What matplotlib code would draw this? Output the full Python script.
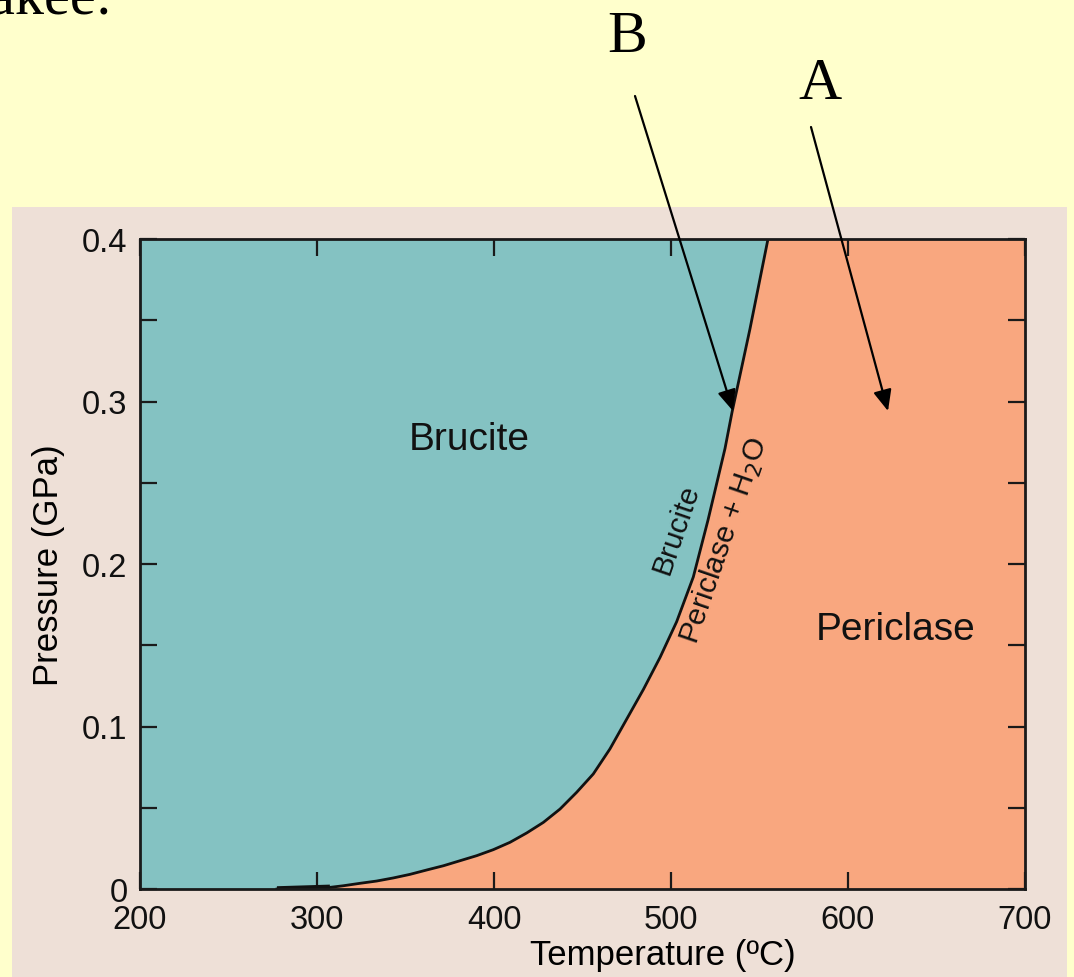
import matplotlib.pyplot as plt
import matplotlib.patches as patches
from matplotlib.ticker import MultipleLocator

# phase boundary brucite = periclase + H2O
temp = [277.4, 307.3, 314.9, 324.3, 333.7, 343.1, 352.5, 362.0, 371.4, 380.8, 390.2, 399.6, 409.0,
        418.5, 427.9, 437.3, 446.7, 456.1, 465.5, 475.0, 484.4, 493.8, 503.2, 512.6, 520.9,
        530.5, 534.5, 544.6, 554.8]
pres = [0, 0.001, 0.002, 0.0035, 0.0049, 0.0068, 0.0090, 0.0117, 0.0143, 0.0174, 0.0205, 0.0242, 0.0287,
        0.0345, 0.0410, 0.0492, 0.0595, 0.0708, 0.0862, 0.1046, 0.1228, 0.1425, 0.1645, 0.1920, 0.2270,
        0.2710, 0.2935, 0.3446, 0.4]

x_ticks = [200, 300, 400, 500, 600, 700]
y_ticks = [0, 0.1, 0.2, 0.3, 0.4]
y_labels = ["0", "0.1", "0.2", "0.3", "0.4"]

teal = "#84c2c2"
salmon = "#f9a77f"
panel = "#eee0d7"
yellow = "#ffffcc"

plt.rcParams['font.family'] = ['Liberation Sans', 'DejaVu Sans']

fig = plt.figure(figsize=(10.74, 9.78), dpi=100, facecolor=yellow)

# beige panel behind the chart
fig.patches.append(patches.Rectangle((12/1074, 0), 1055/1074, 770/978, transform=fig.transFigure,
                                     facecolor=panel, edgecolor='none', zorder=-5))

ax = fig.add_axes([140/1074, 88/978, 885/1074, 650/978])
ax.set_zorder(1)
ax.set_xlim(200, 700)
ax.set_ylim(0, 0.4)

# brucite field (left of curve) and periclase field (right of curve)
tx = [200] + temp + [200]
py = [0] + pres + [0.4]
ax.fill(tx, py, color=teal, lw=0)
tx2 = temp + [700, 700]
py2 = pres + [0.4, 0]
ax.fill(tx2, py2, color=salmon, lw=0)
ax.plot(temp, pres, color='#111111', lw=2)
ax.plot(temp[:2], pres[:2], color='#111111', lw=4, solid_capstyle='butt')

ax.set_xticks(x_ticks)
ax.set_yticks(y_ticks)
ax.set_yticklabels(y_labels)
ax.yaxis.set_minor_locator(MultipleLocator(0.05))
ax.tick_params(which='both', direction='in', top=True, right=True, length=12, width=1.6,
               labelsize=23.5, color='#1a1a1a', labelcolor='#111111')
ax.tick_params(axis='x', pad=11)
ax.tick_params(axis='y', pad=9)
for s in ax.spines.values():
    s.set_linewidth(2)
    s.set_color('#1a1a1a')

ax.set_xlabel("Temperature (\u00baC)", fontsize=25)
ax.xaxis.set_label_coords(0.591, -0.075)
ax.set_ylabel("Pressure (GPa)", fontsize=25, labelpad=12)

ax.text(386, 0.277, "Brucite", fontsize=28, ha='center', va='center', color='#111111')
ax.text(627, 0.16, "Periclase", fontsize=28, ha='center', va='center', color='#111111')
ax.text(503, 0.222, "Brucite", fontsize=21.5, rotation=71, ha='center', va='center',
        rotation_mode='anchor', color='#111111')
ax.text(530, 0.215, "Periclase + H$_2$O", fontsize=21.5, rotation=71, ha='center', va='center',
        rotation_mode='anchor', color='#111111')

# slide text and arrows
fig.text(-11/1074, 1 - 13/978, "akee:", fontsize=42, family='Liberation Serif', va='baseline', ha='left')
fig.text(627/1074, 1 - 38/978, "B", fontsize=43, family='Liberation Serif', ha='center', va='center')
fig.text(820/1074, 1 - 85/978, "A", fontsize=43, family='Liberation Serif', ha='center', va='center')
for start, end in [((635, 97), (733, 412)), ((811, 128), (888, 412))]:
    fig.add_artist(patches.FancyArrowPatch((start[0]/1074, 1 - start[1]/978), (end[0]/1074, 1 - end[1]/978),
                                           transform=fig.transFigure,
                                           arrowstyle='-|>,head_length=8,head_width=3.5',
                                           mutation_scale=1.6, color='black', lw=1.6, zorder=10,
                                           shrinkA=0, shrinkB=0))

fig.savefig("out.png", dpi=100, facecolor=yellow)
